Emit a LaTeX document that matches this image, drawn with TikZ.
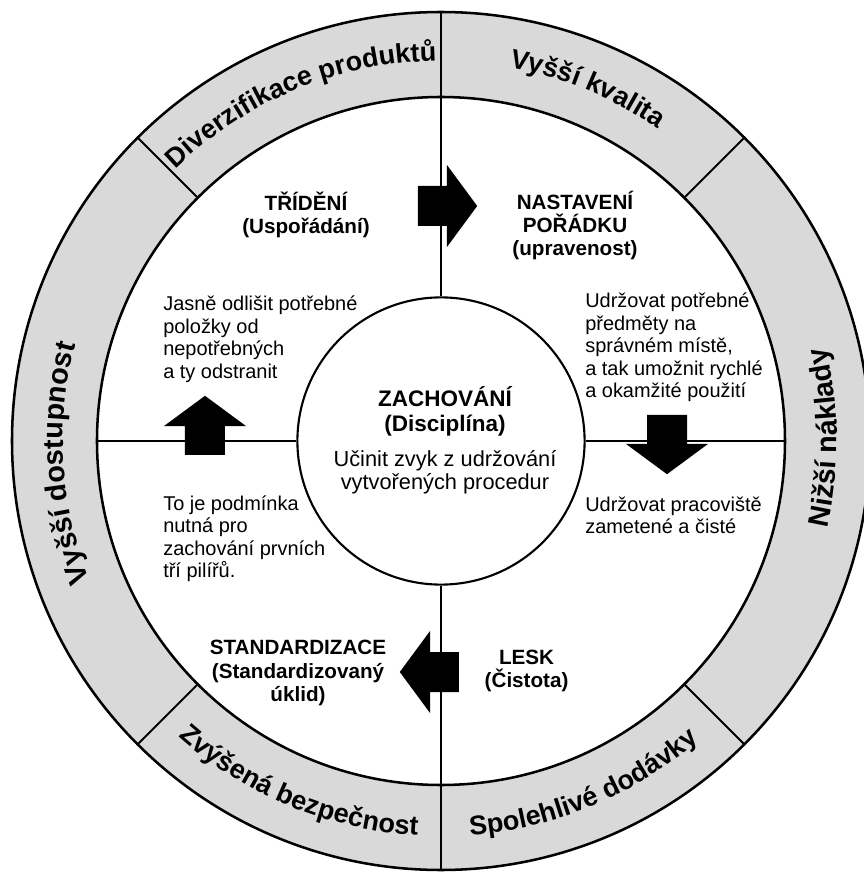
\documentclass[tikz,border=0pt]{standalone}
\usepackage{fontspec}
\setmainfont{Liberation Sans}

\font\ringfont="Liberation Sans/B" at 19.2pt
\font\ringfontbig="Liberation Sans/B" at 20.5pt

% letters set one by one round an arc
\makeatletter
\newbox\ringbox
\newcount\ringcharno
\newcommand{\ringtext}[4]{% radius, middle angle, sense (1 ccw, -1 cw), text with ~ for spaces
	\def\ringr{#1}\def\ringdir{#3}%
	\setbox\ringbox=\hbox{\ringfont #4}%
	\edef\ringw{\strip@pt\wd\ringbox}%
	\pgfmathsetmacro\ringpos{#2-(#3)*0.5*\ringw/(#1*28.4528)*180/pi}%
	\ringloop#4\relax}
\def\ringloop#1{\ifx#1\relax\else\ringchar{#1}\expandafter\ringloop\fi}
\newcommand{\ringchar}[1]{%
	\setbox\ringbox=\hbox{\ringfont #1}%
	\edef\ringw{\strip@pt\wd\ringbox}%
	\global\advance\ringcharno by 1
	\pgfmathsetmacro\ringmid{\ringpos+(\ringdir)*0.5*\ringw/(\ringr*28.4528)*180/pi}%
	\node[ringletter, rotate=\ringmid+(\ringdir)*90] (ringchar\the\ringcharno) at (\ringmid:\ringr) {#1};%
	\pgfmathsetmacro\ringpos{\ringpos+(\ringdir)*\ringw/(\ringr*28.4528)*180/pi}}
\makeatother

\tikzset{
	rim/.style={line width=1.8pt},
	split/.style={line width=1.3pt},
	ringletter/.style={font=\ringfont, inner sep=0pt, anchor=base},
	pillar/.style={font=\fontsize{14.7}{16.5}\selectfont\bfseries, align=center, inner sep=0pt},
	note/.style={font=\fontsize{14.2}{16}\selectfont, align=left, anchor=west, inner sep=0pt},
	blockarrow/.pic={
			\fill (0,-0.5) -- (0.72,-0.5) -- (0.72,-1.03) -- (1.48,0) -- (0.72,1.03) -- (0.72,0.5) -- (0,0.5) -- cycle;
		}
}

\begin{document}
\begin{tikzpicture}
	\useasboundingbox (-11.025,-10.825) rectangle (10.575,11.025);
	\clip (-11.025,-10.825) rectangle (10.575,11.025);

	% shaded ring
	\fill[black!15, even odd rule] (0,0) circle (10.725) (0,0) circle (8.6);

	% circles
	\node[draw, circle, rim, minimum size=21.45cm, inner sep=0pt] (outer) at (0,0) {};
	\node[draw, circle, rim, minimum size=17.2cm, inner sep=0pt] (inner) at (0,0) {};
	\node[draw, circle, line width=1.5pt, minimum size=7.18cm, inner sep=0pt] (core) at (0,0) {};

	% cross lines
	\draw[split] (core.north) -- (outer.north);
	\draw[split] (core.south) -- (outer.south);
	\draw[split] (core.west) -- (inner.west);
	\draw[split] (core.east) -- (inner.east);

	% ring dividers
	\foreach \a in {45,135,225,315}
		\draw[split] (inner.\a) -- (outer.\a);

	% labels on the ring
	\ringtext{9.5}{112.5}{-1}{Diverzifikace~produktů}
	\ringtext{9.5}{67.5}{-1}{Vyšší~kvalita}
	\ringtext{9.88}{292.5}{1}{Spolehlivé~dodávky}
	\ringtext{9.88}{247.5}{1}{Zvýšená~bezpečnost}
	\begin{scope}
		\let\ringfont\ringfontbig
		\ringtext{9.9}{0.5}{1}{Nižší~náklady}
		\ringtext{9.45}{183.5}{-1}{Vyšší~dostupnost}
	\end{scope}

	% the four pillars
	\node[pillar] (trideni) at (-3.375,5.65) {TŘÍDĚNÍ\\(Uspořádání)};
	\node[pillar] (nastaveni) at (3.35,5.39) {NASTAVENÍ\\POŘÁDKU\\(upravenost)};
	\node[pillar] (lesk) at (2.14,-5.75) {LESK\\(Čistota)};
	\node[pillar] (standard) at (-3.575,-5.8) {STANDARDIZACE\\(Standardizovaný\\úklid)};

	% notes
	\node[note] (trideniNote) at (-6.95,2.54) {Jasně odlišit potřebné\\položky od\\nepotřebných\\a ty odstranit};
	\node[note] (nastaveniNote) at (3.6,2.34) {Udržovat potřebné\\předměty na\\správném místě,\\a tak umožnit rychlé\\a okamžité použití};
	\node[note] (leskNote) at (3.6,-1.86) {Udržovat pracoviště\\zametené a čisté};
	\node[note] (standardNote) at (-6.95,-2.44) {To je podmínka\\nutná pro\\zachování prvních\\tří pilířů.};

	% centre
	\node[pillar, font=\fontsize{16}{17.8}\selectfont\bfseries] (zachovani) at (0.1,0.75) {ZACHOVÁNÍ\\(Disciplína)};
	\node[align=center, inner sep=0pt, font=\fontsize{15.5}{15.8}\selectfont] (zachovaniNote) at (0.1,-0.78) {Učinit zvyk z udržování\\vytvořených procedur};

	% block arrows
	\pic at (-0.575,5.875) {blockarrow};
	\pic[rotate=-90] at (5.65,0.65) {blockarrow};
	\pic[rotate=180] at (0.45,-5.775) {blockarrow};
	\pic[rotate=90] at (-5.9,-0.35) {blockarrow};
\end{tikzpicture}
\end{document}
